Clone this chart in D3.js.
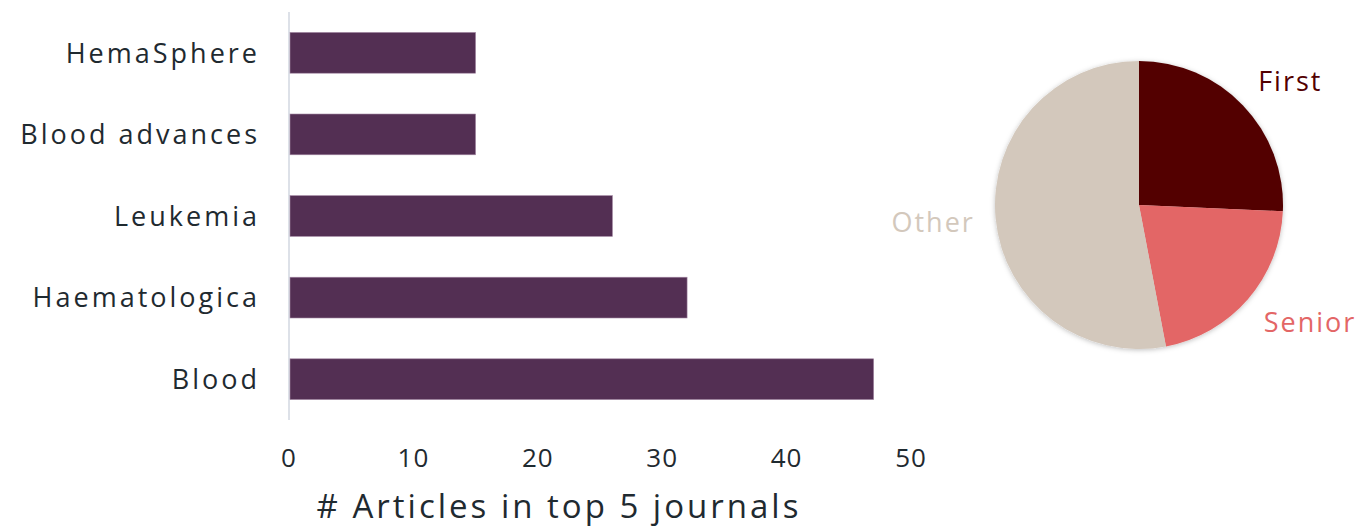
<!DOCTYPE html>
<meta charset="utf-8">
<body>
<script src="https://cdn.jsdelivr.net/npm/d3@7"></script>
<style>
    html, body {
        margin: 0;
        background: #fff;
    }
    text {
        font-family: "Open Sans", "Noto Sans", sans-serif;
    }
</style>
<script>
var journals = ["HemaSphere", "Blood advances", "Leukemia", "Haematologica", "Blood"],
    articles = [15, 15, 26, 32, 47],
    xTicks = [0, 10, 20, 30, 40, 50];

var roles = ["First", "Senior", "Other"],
    roleShare = [25.7, 21.3, 53.0],
    roleColors = ["#530000", "#e36666", "#d3c8bc"];

var width = 1358,
    height = 528;

var svg = d3.select("body").append("svg")
    .attr("width", width)
    .attr("height", height);

// bar chart
var x = d3.scaleLinear()
    .domain([0, 50])
    .range([289, 911]);

var y = d3.scaleBand()
    .domain(journals)
    .range([12, 420])
    .paddingInner(0.5)
    .paddingOuter(0.25);

svg.append("line")
    .attr("x1", x(0))
    .attr("x2", x(0))
    .attr("y1", 12)
    .attr("y2", 420)
    .attr("stroke", "#dde1e8")
    .attr("stroke-width", 2);

svg.selectAll("rect.bar")
    .data(journals)
    .enter().append("rect")
    .attr("class", "bar")
    .attr("x", x(0) + 1)
    .attr("y", function(d) { return y(d); })
    .attr("width", function(d, i) { return x(articles[i]) - x(0) - 1; })
    .attr("height", y.bandwidth())
    .attr("fill", "#532f53")
    .attr("stroke", "#a58aa5")
    .attr("stroke-width", 0.6);

svg.selectAll("text.ylab")
    .data(journals)
    .enter().append("text")
    .attr("class", "ylab")
    .attr("x", 260)
    .attr("y", function(d) { return y(d) + y.bandwidth() / 2; })
    .attr("dy", "0.36em")
    .attr("text-anchor", "end")
    .attr("fill", "#1f2a30")
    .style("font-size", "27px")
    .style("letter-spacing", "3px")
    .text(function(d) { return d; });

svg.selectAll("text.xtick")
    .data(xTicks)
    .enter().append("text")
    .attr("class", "xtick")
    .attr("x", function(d) { return x(d); })
    .attr("y", 467)
    .attr("text-anchor", "middle")
    .attr("fill", "#1f2a30")
    .style("font-size", "26px")
    .style("letter-spacing", "1px")
    .text(function(d) { return d; });

svg.append("text")
    .attr("x", 559)
    .attr("y", 518)
    .attr("text-anchor", "middle")
    .attr("fill", "#1f2a30")
    .style("font-size", "33px")
    .style("letter-spacing", "3px")
    .text("# Articles in top 5 journals");

// pie chart
var defs = svg.append("defs");
var shadow = defs.append("filter")
    .attr("id", "shadow")
    .attr("x", "-20%").attr("y", "-20%")
    .attr("width", "140%").attr("height", "140%");
shadow.append("feDropShadow")
    .attr("dx", 0)
    .attr("dy", 1)
    .attr("stdDeviation", 2.5)
    .attr("flood-color", "#000")
    .attr("flood-opacity", 0.25);

var pieData = d3.pie().sort(null)(roleShare),
    r = 144,
    arc = d3.arc().innerRadius(0).outerRadius(r),
    labelArc = d3.arc().innerRadius(170).outerRadius(170);

var pie = svg.append("g")
    .attr("transform", "translate(1139,205)");

pie.append("g")
    .attr("filter", "url(#shadow)")
    .selectAll("path")
    .data(pieData)
    .enter().append("path")
    .attr("d", arc)
    .attr("fill", function(d, i) { return roleColors[i]; });

pie.selectAll("text")
    .data(pieData)
    .enter().append("text")
    .attr("transform", function(d) {
        var c = labelArc.centroid(d);
        return "translate(" + [c[0] * 0.97, c[1] * 1.05] + ")";
    })
    .attr("dy", "0.36em")
    .attr("text-anchor", function(d) {
        return (d.startAngle + d.endAngle) / 2 < Math.PI ? "start" : "end";
    })
    .attr("fill", function(d, i) { return roleColors[i]; })
    .style("font-size", "27px")
    .style("letter-spacing", "2px")
    .text(function(d, i) { return roles[i]; });
</script>
